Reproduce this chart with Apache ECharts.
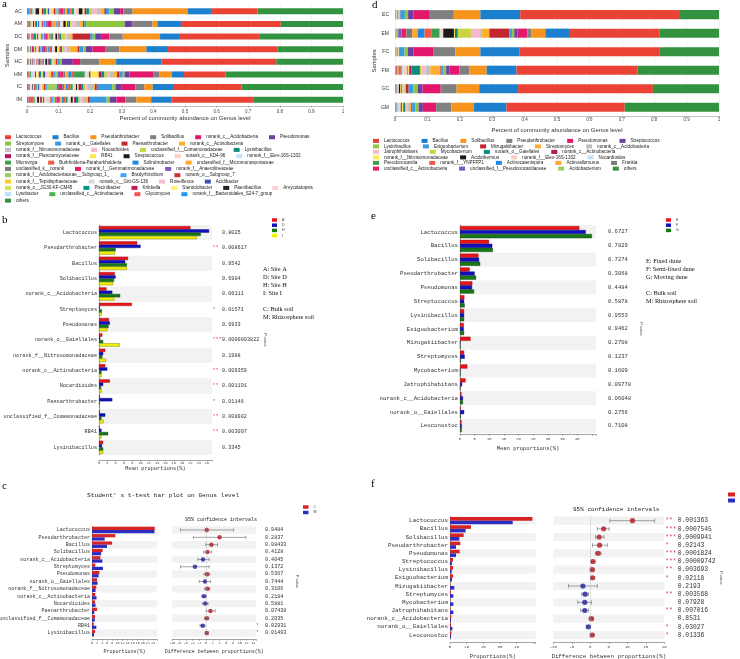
<!DOCTYPE html>
<html><head><meta charset="utf-8">
<script src="https://cdn.jsdelivr.net/npm/echarts@6/dist/echarts.min.js"></script>
<style>html,body{margin:0;padding:0;background:#fff}#c{width:740px;height:659px}</style>
</head><body><div id="c"></div>
<script>
// ---------------- Panel a data ----------------
const aSamples = ['AC','AM','DC','DM','HC','HM','IC','IM'];
const aGenera = ['Lactococcus','Bacillus','Pseudarthrobacter','Solibacillus','norank_c__Acidobacteria','Pseudomonas','Streptomyces','norank_o__Gaiellales','Paenarthrobacter','norank_c__Actinobacteria','norank_f__Nitrosomonadaceae','Nocardioides','unclassified_f__Comamonadaceae','Lysinibacillus','norank_f__Planctomycetaceae','RB41','Streptococcus','norank_c__KD4-96','norank_f__Elev-16S-1332','Microvirga','Burkholderia-Paraburkholderia','Solirubrobacter','unclassified_f__Micromonosporaceae','unclassified_k__norank','norank_f__Gemmatimonadaceae','norank_f__Anaerolineaceae','norank_f__Acidobacteriaceae__Subgroup_1_','Bradyrhizobium','norank_o__Subgroup_7','norank_f__Tepidisphaeraceae','norank_c__Gitt-GS-136','Roseiflexus','Acidibacter','norank_o__JG30-KF-CM45','Piscinibacter','Kribbella','Steroidobacter','Paenibacillus','Amycolatopsis','Lysobacter','unclassified_c__Actinobacteria','Glycomyces','norank_f__Bacteroidales_S24-7_group','others'];
const aAC = [.147,.074,.174,.029,.01,.02,.015,.01,.005,.012, .012,.015,.01,.008,.006,.006,.012,.01,.005,.008,.006,.008,.006,.006,.01,.005,.006,.004,.005,.005,.006,.004,.004,.006,.008,.005,.008,.012,.004,.005,.006,.004,.008, .271];
const aAM = [.316,.074,.016,.063,.005,.02,.122,.006,.004,.012, .012,.012,.004,.006,.004,.004,.008,.006,.005,.004,.004,.003,.012,.003,.014,.004,.003,.006,.003,.004,.003,.003,.003,.003,.004,.003,.003,.003,.003,.004,.006,.004,.002, .197];
const aDC = [.253,.063,.118,.042,.024,.021,.008,.008,.056,.01, .007,.006,.012,.006,.004,.003,.006,.004,.003,.004,.004,.004,.004,.003,.006,.004,.003,.003,.003,.003,.003,.003,.004,.003,.008,.004,.002,.002,.002,.002,.003,.002,.004, .263];
const aDM = [.347,.068,.086,.043,.042,.021,.008,.012,.006,.025, .01,.008,.006,.004,.004,.008,.006,.005,.004,.004,.006,.003,.004,.004,.008,.004,.003,.003,.004,.003,.003,.003,.003,.003,.003,.003,.002,.003,.003,.002,.002,.002,.002, .207];
const aHC = [.363,.144,.053,.061,.023,.035,.006,.008,.004,.006, .002,.003,.003,.009,.003,.002,.006,.002,.002,.003,.002,.003,.002,.002,.004,.002,.002,.002,.002,.002,.002,.002,.002,.002,.002,.002,.002,.003,.002,.002,.002,.002,.003, .211];
const aHM = [.132,.038,.041,.017,.076,.016,.006,.01,.008,.01, .012,.01,.008,.01,.008,.026,.004,.008,.006,.034,.008,.01,.01,.006,.01,.008,.006,.008,.006,.008,.006,.006,.006,.006,.004,.004,.008,.003,.004,.008,.006,.004,.004, .371];
const aIC = [.214,.067,.027,.028,.045,.018,.01,.049,.006,.006, .016,.008,.006,.006,.01,.004,.004,.006,.004,.008,.008,.006,.006,.006,.01,.006,.032,.006,.004,.006,.004,.004,.004,.004,.004,.004,.003,.003,.003,.004,.003,.003,.004, .321];
const aIM = [.26,.065,.047,.035,.028,.021,.01,.053,.006,.006, .01,.008,.006,.008,.006,.004,.006,.006,.004,.006,.006,.006,.006,.004,.008,.004,.005,.006,.004,.004,.012,.004,.003,.003,.004,.003,.003,.006,.003,.004,.004,.016,.005, .282];

// ---------------- Panel d data ----------------
const dSamples = ['EC','EM','FC','FM','GC','GM'];
const dGenera = ['Lactococcus','Bacillus','Solibacillus','Pseudarthrobacter','Pseudomonas','Streptococcus','Lysinibacillus','Exiguobacterium','Mizugakiibacter','Streptomyces','norank_c__Acidobacteria','Jatrophihabitans','Mycobacterium','norank_o__Gaiellales','norank_c__Actinobacteria','norank_f__Nitrosomonadaceae','Acidothermus','norank_f__Elev-16S-1332','Nocardioides','Pseudonocardia','norank_f__YNPFFP1','Actinocatenispora','Actinoallomurus','Frankia','unclassified_c__Actinobacteria','unclassified_f__Pseudonocardiaceae','Acidobacterium','others'];
const dEC = [.493,.123,.082,.074,.051,.016,.01,.014,.001,.002,.001,.001,.001,.001,.001,.001,.001,.001,.001,.001,.0005,.0005,.0005,.0005,.0005,.0005,.0005,.121];
const dEM = [.28,.073,.044,.011,.031,.01,.007,.008,.062,.024,.005,.025,.043,.006,.003,.003,.033,.008,.003,.026,.021,.021,.017,.018,.015,.01,.01,.183];
const dFC = [.434,.12,.077,.067,.062,.018,.01,.014,.002,.002,.001,.001,.001,.001,.001,.001,.0005,.0005,.0005,.0005,.0005,.0005,.0005,.0005,.0005,.0005,.0005,.183];
const dFM = [.373,.092,.053,.031,.031,.01,.008,.007,.003,.031,.013,.015,.004,.026,.007,.003,.002,.014,.004,.003,.003,.003,.004,.002,.002,.002,.002,.252];
const dGC = [.416,.12,.07,.049,.056,.015,.013,.015,.008,.004,.003,.003,.002,.002,.002,.002,.004,.002,.002,.001,.001,.001,.001,.001,.001,.001,.001,.204];
const dGM = [.365,.1,.07,.047,.041,.013,.01,.01,.003,.004,.008,.004,.003,.004,.002,.004,.003,.002,.008,.001,.001,.001,.001,.001,.001,.001,.001,.291];

// ---------------- Panel b data ----------------
const bGenera = ['Lactococcus','Pseudarthrobacter','Bacillus','Solibacillus','norank_c__Acidobacteria','Streptomyces','Pseudomonas','norank_o__Gaiellales','norank_f__Nitrosomonadaceae','norank_c__Actinobacteria','Nocardioides','Paenarthrobacter','unclassified_f__Comamonadaceae','RB41','Lysinibacillus'];
const bGroups = ['A','D','H','I'];
const bA = [22.0,9.2,7.0,3.8,1.8,7.9,2.4,0.8,1.5,1.5,2.6,0.2,0.2,0.1,1.0];
const bD = [26.5,10.0,6.3,4.0,3.2,0.2,2.6,0.3,1.0,2.0,1.0,3.2,1.5,0.6,0.7];
const bH = [24.5,4.0,6.7,3.6,5.1,0.7,2.3,1.0,0.8,0.6,0.5,0.15,0.6,2.2,1.0];
const bI = [23.6,3.8,6.7,3.4,3.7,0.6,2.0,5.0,1.7,0.6,0.7,0.2,1.1,0.6,1.0];
const bP = ['0.8025','0.008617','0.9542','0.6984','0.06111','0.01571','0.6933','0.0000003822','0.1988','0.009359','0.001191','0.01146','0.008902','0.003097','0.3345'];
const bStars = ['','**','','','','*','','***','','**','**','*','**','**',''];

// ---------------- Panel e data ----------------
const eGenera = ['Lactococcus','Bacillus','Solibacillus','Pseudarthrobacter','Pseudomonas','Streptococcus','Lysinibacillus','Exiguobacterium','Mizugakiibacter','Streptomyces','Mycobacterium','Jatrophihabitans','norank_c__Acidobacteria','norank_o__Gaiellales','Leuconostoc'];
const eGroups = ['E','F','G'];
const eE = [40.7,9.9,6.3,3.3,4.2,1.5,1.4,1.3,3.6,1.4,2.5,1.9,0.5,0.2,0.5];
const eF = [42.9,11.0,6.5,5.0,4.1,1.4,1.4,1.3,0.1,1.6,0.1,0.7,1.0,1.4,0.6];
const eG = [45.0,11.2,6.9,5.5,4.8,1.6,1.4,1.4,0.1,0.3,0.1,0.1,1.0,0.3,0.6];
const eP = ['0.6727','0.7829','0.7274','0.3068','0.4484','0.5878','0.9553','0.9462','0.2708','0.1237','0.1609','0.09778','0.06048','0.2756','0.7108'];

// ---------------- Panel c data ----------------
const cGenera = ['Lactococcus','Pseudarthrobacter','Bacillus','Solibacillus','norank_c__Acidobacteria','Streptomyces','Pseudomonas','norank_o__Gaiellales','norank_f__Nitrosomonadaceae','norank_c__Actinobacteria','Nocardioides','Paenarthrobacter','unclassified_f__Comamonadaceae','RB41','Lysinibacillus'];
const cC = [24.7,9.2,7.9,4.2,3.3,1.3,2.9,2.0,1.7,1.3,1.2,2.0,1.2,0.7,1.2];
const cM = [24.6,5.0,5.9,3.6,4.1,4.3,2.6,2.2,1.4,1.8,1.4,0.9,1.1,1.7,0.8];
const cDiff = [0.2,4.0,1.6,0.4,-0.9,-3.3,0.3,-0.3,0.4,-0.6,-0.2,1.3,0.2,-1.0,0.2];
const cLow = [-7.6,-3.7,-0.1,-0.7,-2.4,-7.6,-0.6,-2.0,-0.4,-1.3,-1.0,0.0,-0.4,-1.8,-0.2];
const cHigh = [8.1,11.8,3.4,1.6,0.9,0.9,1.1,1.3,1.1,0.1,0.6,2.7,0.8,-0.3,0.6];
const cP = ['0.9484','0.2837','0.08433','0.4128','0.4045','0.1372','0.5367','0.7444','0.3106','0.2184','0.5881','0.07438','0.2035','0.02931','0.01493'];
const cStars = ['','','','','','','','','','','','','','*','*'];

// ---------------- Panel f data ----------------
const fGenera = ['Lactococcus','Bacillus','Solibacillus','Pseudarthrobacter','Pseudomonas','Streptococcus','Lysinibacillus','Exiguobacterium','Mizugakiibacter','Streptomyces','Mycobacterium','Jatrophihabitans','norank_c__Acidobacteria','norank_o__Gaiellales','Leuconostoc'];
const fC = [49.4,12.6,8.2,6.2,5.8,1.8,1.8,1.8,0.2,0.6,0.2,0.4,0.8,0.6,0.8];
const fM = [37.6,9.4,5.6,3.6,3.6,1.2,1.0,1.2,2.6,2.0,2.0,2.0,0.6,1.4,0.6];
const fDiff = [11.4,3.6,2.4,2.5,2.1,0.7,0.5,0.6,-2.0,-1.4,-1.5,-1.5,0.3,-0.5,0.5];
const fLow = [5.3,1.9,1.4,0.6,1.4,0.3,0.1,0.2,-5.9,-2.3,-3.4,-2.6,-0.3,-1.1,0.0];
const fHigh = [17.4,5.1,3.7,4.6,2.9,1.3,1.1,1.2,1.9,-0.5,0.3,-0.5,0.8,0.1,1.0];
const fP = ['0.001363','0.0007545','0.0009941','0.02143','0.0001824','0.00009742','0.003693','0.02118','0.2193','0.003568','0.07928','0.007016','0.8531','0.03027','0.01336'];
const fStars = ['**','***','***','*','***','***','**','*','','**','','**','','*','*'];

// ---------------- styles / layout ----------------
const palette = ['#EA4335','#1C7FCE','#F7941D','#808080','#E2176B','#6B3FA0','#8DC63F','#3A9AE0','#C1272D','#FBB034','#BFBFBF','#F6B8CF','#C9D53F','#0C8C7F','#B3175B','#FDE74C','#1A1A1A','#FBCDBF','#C5DFF5','#3F9E4D','#EF5A4B','#1E88E5','#FFA630','#7A7A7A','#E91E63','#7E57C2','#9CCC65','#42A5F5','#D32F2F','#FFCA28','#D9D9D9','#F8BBD0','#3F51B5','#D4E157','#009688','#C2185B','#FFF176','#212121','#FFCDD2','#BBDEFB','#4CAF50','#EF5350','#2196F3'];
const othersColor = '#33923F';
const MONO = 'Liberation Mono', SANS = 'Liberation Sans', SERIF = 'Liberation Serif';
const aLegendRowSizes = [6,4,4,5,4,3,3,4,6,4,1];
const aLegendRowY = [137.3,143.7,150,156.3,162.7,169,175.3,181.7,188,194.3,200.7];
const dLegendRowSizes = [6,5,4,4,5,4];
const dLegendRowY = [141,146.5,152,157.5,163,168.7];
const STAR = '#E8444A';
const BAND = ['#F2F2F2','rgba(255,255,255,0)'];

const series = [];
const legends = [];
const colorOf = (g, n) => g === n - 1 ? othersColor : palette[g];

function stackPanel(genera, vals, prefix, axisIdx, barW) {
  const n = genera.length;
  const order = [];
  for (let g = n - 2; g >= 0; g--) order.push(g);
  order.push(n - 1);
  order.forEach(g => series.push({
    type: 'bar', name: prefix + genera[g], stack: 'st' + axisIdx,
    xAxisIndex: axisIdx, yAxisIndex: axisIdx, barWidth: barW,
    itemStyle: { color: colorOf(g, n) },
    data: vals.map(v => v[g])
  }));
}
stackPanel(aGenera, [aAC,aAM,aDC,aDM,aHC,aHM,aIC,aIM], '', 0, '48%');
stackPanel(dGenera, [dEC,dEM,dFC,dFM,dGC,dGM], 'd:', 1, '49%');

function legendRows(genera, prefix, sizes, ys, left, gap) {
  let s = 0;
  sizes.forEach((n, r) => {
    legends.push({
      left: left, top: ys[r] - 2.6, padding: 0, itemGap: gap, itemWidth: 6, itemHeight: 4,
      icon: 'rect', selectedMode: false, orient: 'horizontal',
      itemStyle: { borderWidth: 0 },
      formatter: nm => nm.slice(nm.indexOf(':') + 1),
      textStyle: { fontSize: 4.6, fontFamily: SANS, color: '#222' },
      data: genera.slice(s, s + n).map(g => prefix + g)
    });
    s += n;
  });
}
legendRows(aGenera, '', aLegendRowSizes, aLegendRowY, 5, 11);
legendRows(dGenera, 'd:', dLegendRowSizes, dLegendRowY, 373, 12);

// grouped bars
function groupBars(prefix, groups, arrays, cols, borders, axisIdx, catGap) {
  arrays.forEach((arr, k) => series.push({
    type: 'bar', name: prefix + groups[k], xAxisIndex: axisIdx, yAxisIndex: axisIdx,
    barGap: '0%', barCategoryGap: catGap, data: arr,
    itemStyle: { color: cols[k], borderColor: borders ? borders[k] : undefined, borderWidth: borders ? 0.4 : 0 }
  }));
}
groupBars('b:', bGroups, [bA,bD,bH,bI], ['#E8141B','#1010C0','#187818','#F0F000'], ['#8A0A0A','#05056A','#0B3F0B','#70700A'], 2, '14%');
groupBars('e:', eGroups, [eE,eF,eG], ['#E8141B','#1010C0','#187818'], ['#8A0A0A','#05056A','#0B3F0B'], 3, '12%');
groupBars('c:', ['C','M'], [cC,cM], ['#D42424','#2C2CC0'], null, 4, '12%');
groupBars('f:', ['C','M'], [fC,fM], ['#D42424','#2C2CC0'], null, 6, '12%');

function ciRenderer(cap) {
  return function (params, api) {
    const y = api.value(2);
    const p1 = api.coord([api.value(0), y]);
    const p2 = api.coord([api.value(1), y]);
    const st = { stroke: '#666', lineWidth: 0.6 };
    return { type: 'group', children: [
      { type: 'line', shape: { x1: p1[0], y1: p1[1], x2: p2[0], y2: p2[1] }, style: st },
      { type: 'line', shape: { x1: p1[0], y1: p1[1] - cap, x2: p1[0], y2: p1[1] + cap }, style: st },
      { type: 'line', shape: { x1: p2[0], y1: p2[1] - cap, x2: p2[0], y2: p2[1] + cap }, style: st }
    ]};
  };
}
function ciPanel(lo, hi, diff, axisIdx, cap, dot) {
  series.push({
    type: 'custom', coordinateSystem: 'cartesian2d', xAxisIndex: axisIdx, yAxisIndex: axisIdx,
    renderItem: ciRenderer(cap), encode: { x: [0, 1], y: 2 },
    data: lo.map((v, i) => [v, hi[i], i]), z: 3
  });
  series.push({
    type: 'scatter', xAxisIndex: axisIdx, yAxisIndex: axisIdx, symbolSize: dot, z: 4,
    data: diff.map((v, i) => ({ value: [v, i], itemStyle: { color: v >= 0 ? '#B0191E' : '#1F1F9A' } })),
    markLine: { silent: true, symbol: 'none', label: { show: false },
      lineStyle: { type: 'dashed', color: '#AAAAAA', width: 0.5 }, data: [{ xAxis: 0 }] }
  });
}
ciPanel(cLow, cHigh, cDiff, 5, 1.6, 4.5);
ciPanel(fLow, fHigh, fDiff, 7, 2, 5.2);

// ---------------- grids ----------------
const G = (left, top, width, height) => ({ left, top, width, height, containLabel: false, outerBoundsMode: 'none' });
const grids = [
  G(27, 5, 316, 101),        // a
  G(395, 5.4, 324, 111.1),   // d
  G(99, 225, 113, 230),      // b
  G(460, 225.1, 136, 207.8), // e
  G(92, 526.3, 65, 110.4),   // c left
  G(172.3, 526.3, 83.7, 110.4), // c CI
  G(450, 516.6, 85.7, 122.5),   // f left
  G(553.3, 516.6, 111, 122.5)   // f CI
];

const axLine = { show: true, lineStyle: { color: '#666', width: 0.6 } };
function valAxis(gi, o) {
  return Object.assign({
    type: 'value', gridIndex: gi, axisLine: axLine,
    axisTick: { show: true, length: 1.5, lineStyle: { color: '#666', width: 0.5 } },
    splitLine: { show: false },
    nameLocation: 'middle'
  }, o);
}
const every = (step, maxShown) => v => (Math.abs(v % step) < 1e-9 && v <= maxShown + 1e-9) ? String(Math.round(v * 100) / 100) : '';

const xAxes = [
  valAxis(0, { min: 0, max: 1, interval: 0.1, axisLabel: { fontSize: 4.5, margin: 3.5, color: '#444', fontFamily: SANS },
    axisLine: { show: true, lineStyle: { color: '#999', width: 0.6 } },
    splitLine: { show: true, lineStyle: { color: '#E6E6E6', width: 0.5 } },
    name: 'Percent of community abundance on Genus level', nameGap: 9.8, nameTextStyle: { fontSize: 6, fontFamily: SANS, color: '#333' } }),
  valAxis(1, { min: 0, max: 1, interval: 0.1, axisLabel: { fontSize: 4.5, margin: 1, color: '#444', fontFamily: SANS },
    axisLine: { show: true, lineStyle: { color: '#999', width: 0.6 } },
    splitLine: { show: true, lineStyle: { color: '#E6E6E6', width: 0.5 } },
    name: 'Percent of community abundance on Genus level', nameGap: 10.5, nameTextStyle: { fontSize: 6, fontFamily: SANS, color: '#333' } }),
  valAxis(2, { min: 0, max: 27.2, interval: 2, offset: 5, axisLabel: { fontSize: 3.6, margin: 1, color: '#444', fontFamily: MONO, formatter: every(2, 26) },
    name: 'Mean proportions(%)', nameGap: 5.6, nameTextStyle: { fontSize: 5.3, fontFamily: MONO, color: '#333' } }),
  valAxis(3, { min: 0, max: 46.4, interval: 5, offset: 1.5, axisLabel: { fontSize: 3.8, margin: 3, color: '#444', fontFamily: MONO, formatter: every(5, 40) },
    name: 'Mean proportions(%)', nameGap: 10.7, nameTextStyle: { fontSize: 5.5, fontFamily: MONO, color: '#333' } }),
  valAxis(4, { min: 0, max: 25.6, interval: 2, offset: 2.6, axisLabel: { fontSize: 3.4, margin: 2.5, color: '#444', fontFamily: MONO, formatter: every(2, 24) },
    name: 'Proportions(%)', nameGap: 10.2, nameTextStyle: { fontSize: 5, fontFamily: MONO, color: '#333' } }),
  valAxis(5, { min: -10, max: 14.8, interval: 2, offset: 2.6, axisLabel: { fontSize: 3.4, margin: 2.5, color: '#444', fontFamily: MONO, formatter: every(2, 14) },
    name: 'Difference between proportions(%)', nameGap: 10.2, nameTextStyle: { fontSize: 5, fontFamily: MONO, color: '#333' } }),
  valAxis(6, { min: 0, max: 51.4, interval: 10, offset: 3.6, axisLabel: { fontSize: 4, margin: 2, color: '#444', fontFamily: MONO, formatter: every(10, 40) },
    name: 'Proportions(%)', nameGap: 11, nameTextStyle: { fontSize: 5.5, fontFamily: MONO, color: '#333' } }),
  valAxis(7, { min: -10, max: 20, interval: 5, offset: 3.6, axisLabel: { fontSize: 4, margin: 2, color: '#444', fontFamily: MONO, formatter: every(5, 20) },
    name: 'Difference between proportions(%)', nameGap: 11, nameTextStyle: { fontSize: 5.8, fontFamily: MONO, color: '#333' } })
];

function catAxis(gi, data, o) {
  return Object.assign({
    type: 'category', gridIndex: gi, data: data, inverse: true,
    axisLine: { show: false }, axisTick: { show: false }
  }, o);
}
const bandArea = { show: true, interval: 0, areaStyle: { color: BAND } };
function pAxis(gi, pv, stars, fs, margin, starW, gap, nameGap) {
  return catAxis(gi, pv, {
    position: 'right',
    axisLabel: { interval: 0, margin: margin,
      formatter: (v, i) => '{s|' + (stars[i] || ' ') + '}{p|' + v + '}',
      rich: { s: { width: starW, align: 'left', color: STAR, fontFamily: MONO, fontSize: fs },
              p: { color: '#333', fontFamily: MONO, fontSize: fs, padding: [0, 0, 0, gap] } } },
    name: 'P-value', nameLocation: 'middle', nameRotate: -90, nameGap: nameGap,
    nameTextStyle: { fontSize: 4, fontFamily: SANS, color: '#555' }
  });
}
const yAxes = [
  catAxis(0, aSamples, { axisLabel: { fontSize: 5.2, margin: 5, color: '#333', fontFamily: SANS },
    name: 'Samples', nameLocation: 'middle', nameRotate: 90, nameGap: 16, nameTextStyle: { fontSize: 6, fontFamily: SANS, color: '#333' } }),
  catAxis(1, dSamples, { axisLabel: { fontSize: 5, margin: 6, color: '#333', fontFamily: SANS },
    name: 'Samples', nameLocation: 'middle', nameRotate: 90, nameGap: 17, nameTextStyle: { fontSize: 6, fontFamily: SANS, color: '#333' } }),
  catAxis(2, bGenera, { axisLine: axLine, splitArea: bandArea, axisLabel: { interval: 0, fontSize: 5.2, margin: 2, color: '#333', fontFamily: MONO } }),
  catAxis(3, eGenera, { axisLine: axLine, splitArea: bandArea, axisLabel: { interval: 0, fontSize: 5.7, margin: 2, color: '#333', fontFamily: MONO } }),
  catAxis(4, cGenera, { axisLine: axLine, splitArea: bandArea, axisLabel: { interval: 0, fontSize: 5.05, margin: 2, color: '#333', fontFamily: MONO } }),
  catAxis(5, cGenera, { splitArea: bandArea, axisLabel: { show: false } }),
  catAxis(6, fGenera, { axisLine: axLine, splitArea: bandArea, axisLabel: { interval: 0, fontSize: 5.9, margin: 2, color: '#333', fontFamily: MONO } }),
  catAxis(7, fGenera, { splitArea: bandArea, axisLabel: { show: false } }),
  pAxis(2, bP, bStars, 5.2, 0.5, 9.5, 0, 48),
  pAxis(3, eP, eGenera.map(() => ''), 5.5, 0, 12, 0, 43),
  pAxis(5, cP, cStars, 5.1, 0, 9, 0, 39),
  pAxis(7, fP, fStars, 6.3, 1, 12.5, 0, 48)
];

function smallLegend(prefix, groups, left, top, w, h, gap) {
  legends.push({
    orient: 'vertical', left: left, top: top, padding: 0, itemGap: gap, itemWidth: w, itemHeight: h,
    icon: 'rect', selectedMode: false, formatter: nm => nm.slice(nm.indexOf(':') + 1),
    itemStyle: { borderWidth: 0 },
    textStyle: { fontSize: 3.5, fontFamily: SANS, color: '#333' },
    data: groups.map(g => prefix + g)
  });
}
smallLegend('b:', bGroups, 272, 218, 5, 3.5, 1.2);
smallLegend('e:', eGroups, 666, 218, 5, 3.5, 1.2);
smallLegend('c:', ['C','M'], 303, 505, 5.5, 3.5, 1.5);
smallLegend('f:', ['C','M'], 728, 492.5, 7, 4, 2);

const letter = (t, left, top) => ({ text: t, left, top, padding: 0,
  textStyle: { fontFamily: SERIF, fontSize: 11, fontWeight: 'normal', color: '#000' } });
const titles = [
  letter('a', 2, -1), letter('d', 372, 0), letter('b', 2, 215), letter('e', 371, 211),
  letter('c', 2, 481), letter('f', 371, 479),
  { text: "Student' s t-test bar plot on Genus level", left: 87, top: 492, padding: 0,
    textStyle: { fontFamily: MONO, fontSize: 6.2, fontWeight: 'normal', color: '#222' } },
  { text: '95% confidence intervals', left: 185, top: 517.5, padding: 0,
    textStyle: { fontFamily: MONO, fontSize: 5, fontWeight: 'normal', color: '#222' } },
  { text: '95% confidence intervals', left: 573, top: 506, padding: 0,
    textStyle: { fontFamily: MONO, fontSize: 6, fontWeight: 'normal', color: '#222' } },
  { text: 'A: Site A\nD: Site D\nH: Site H\nI: Site I\n\nC: Bulk soil\nM: Rhizosphere soil', left: 263, top: 265, padding: 0,
    textStyle: { fontFamily: SERIF, fontSize: 6.3, lineHeight: 8, fontWeight: 'normal', color: '#111' } },
  { text: 'E: Fixed dune\nF: Semi-fixed dune\nG: Moving dune\n\nC: Bulk soil\nM: Rhizosphere soil', left: 646, top: 257, padding: 0,
    textStyle: { fontFamily: SERIF, fontSize: 6.3, lineHeight: 8, fontWeight: 'normal', color: '#111' } }
];

const chart = echarts.init(document.getElementById('c'), null, { renderer: 'canvas' });
chart.setOption({
  animation: false,
  backgroundColor: '#fff',
  title: titles,
  legend: legends,
  grid: grids,
  xAxis: xAxes,
  yAxis: yAxes,
  series: series
});
</script>
</body></html>
